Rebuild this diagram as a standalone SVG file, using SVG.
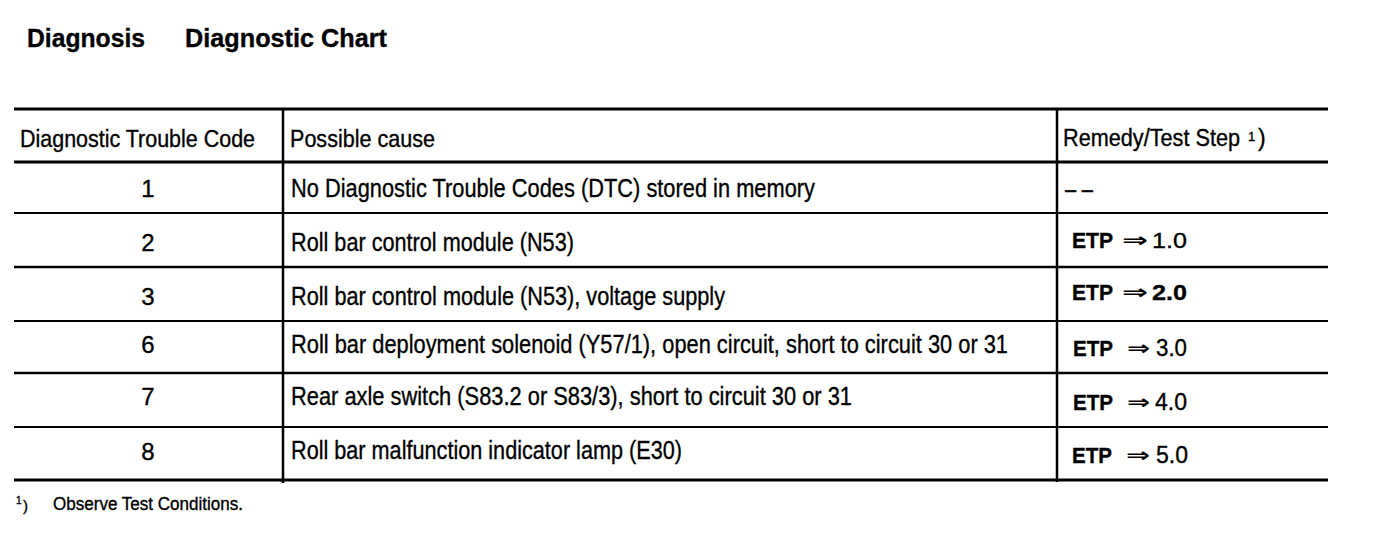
<svg xmlns="http://www.w3.org/2000/svg" width="1376" height="542" viewBox="0 0 1376 542">
<style>
.t{font-family:"Liberation Sans",Arial,sans-serif;fill:#000;stroke:#000;stroke-width:0.35}
.b{font-weight:bold}
.row{font-size:26px}
.hd{font-size:24px}
.num{font-size:24px;text-anchor:middle}
.etp{font-size:22px;font-weight:bold}
.arr{font-family:"DejaVu Sans",sans-serif;font-size:20px;font-weight:bold;fill:#000}
.ln{stroke:#000;fill:none}
</style>
<rect width="1376" height="542" fill="#fff"/>
<g id="title">
<text class="t b" x="27" y="47" font-size="26" textLength="118" lengthAdjust="spacingAndGlyphs">Diagnosis</text>
<text class="t b" x="185" y="47" font-size="26" textLength="202" lengthAdjust="spacingAndGlyphs">Diagnostic Chart</text>
</g>
<g id="grid">
<line class="ln" x1="14" y1="109" x2="1328" y2="109" stroke-width="3"/>
<line class="ln" x1="14" y1="162" x2="1328" y2="162" stroke-width="3"/>
<line class="ln" x1="14" y1="213" x2="1328" y2="213" stroke-width="2"/>
<line class="ln" x1="14" y1="267" x2="1328" y2="267" stroke-width="2.5"/>
<line class="ln" x1="14" y1="321" x2="1328" y2="321" stroke-width="2"/>
<line class="ln" x1="14" y1="373" x2="1328" y2="373" stroke-width="2.5"/>
<line class="ln" x1="14" y1="427" x2="1328" y2="427" stroke-width="2"/>
<line class="ln" x1="14" y1="480" x2="1328" y2="480" stroke-width="3"/>
<line class="ln" x1="283" y1="108" x2="283" y2="483" stroke-width="2.5"/>
<line class="ln" x1="1057" y1="108" x2="1057" y2="482" stroke-width="2.5"/>
</g>
<g id="header">
<text class="t hd" transform="translate(20,147) scale(0.82,1)" textLength="286.6" lengthAdjust="spacingAndGlyphs">Diagnostic Trouble Code</text>
<text class="t hd" transform="translate(290,147) scale(0.82,1)" textLength="176.8" lengthAdjust="spacingAndGlyphs">Possible cause</text>
<text class="t hd" transform="translate(1063,146) scale(0.82,1)" textLength="215.9" lengthAdjust="spacingAndGlyphs">Remedy/Test Step</text>
<text class="t" x="1248" y="141" font-size="13">1</text>
<text class="t" x="1258" y="146" font-size="23">)</text>
</g>
<g id="row1">
<text class="t num" x="148" y="197">1</text>
<text class="t row" transform="translate(291,197) scale(0.82,1)" textLength="639" lengthAdjust="spacingAndGlyphs">No Diagnostic Trouble Codes (DTC) stored in memory</text>
<text class="t row" x="1065" y="198" textLength="28" lengthAdjust="spacingAndGlyphs">– –</text>
</g>
<g id="row2">
<text class="t num" x="148" y="251">2</text>
<text class="t row" transform="translate(291,251) scale(0.82,1)" textLength="345" lengthAdjust="spacingAndGlyphs">Roll bar control module (N53)</text>
<text class="t etp" x="1072" y="248" textLength="41" lengthAdjust="spacingAndGlyphs">ETP</text>
<text class="arr" x="1122" y="247" textLength="26" lengthAdjust="spacingAndGlyphs">⇒</text>
<text class="t" x="1152" y="248" font-size="22" textLength="35" lengthAdjust="spacingAndGlyphs">1.0</text>
</g>
<g id="row3">
<text class="t num" x="148" y="305">3</text>
<text class="t row" transform="translate(291,305) scale(0.82,1)" textLength="529.3" lengthAdjust="spacingAndGlyphs">Roll bar control module (N53), voltage supply</text>
<text class="t etp" x="1072" y="300" textLength="41" lengthAdjust="spacingAndGlyphs">ETP</text>
<text class="arr" x="1122" y="299" textLength="26" lengthAdjust="spacingAndGlyphs">⇒</text>
<text class="t b" x="1152" y="300" font-size="22" textLength="35" lengthAdjust="spacingAndGlyphs">2.0</text>
</g>
<g id="row6">
<text class="t num" x="148" y="353">6</text>
<text class="t row" transform="translate(291,353) scale(0.82,1)" textLength="874.4" lengthAdjust="spacingAndGlyphs">Roll bar deployment solenoid (Y57/1), open circuit, short to circuit 30 or 31</text>
<text class="t etp" x="1073" y="356" font-size="23" textLength="40" lengthAdjust="spacingAndGlyphs">ETP</text>
<text class="arr" x="1127" y="355" textLength="23" lengthAdjust="spacingAndGlyphs">⇒</text>
<text class="t" x="1156" y="356" font-size="23" textLength="31" lengthAdjust="spacingAndGlyphs">3.0</text>
</g>
<g id="row7">
<text class="t num" x="148" y="405">7</text>
<text class="t row" transform="translate(291,405) scale(0.82,1)" textLength="684.1" lengthAdjust="spacingAndGlyphs">Rear axle switch (S83.2 or S83/3), short to circuit 30 or 31</text>
<text class="t etp" x="1073" y="410" font-size="23" textLength="40" lengthAdjust="spacingAndGlyphs">ETP</text>
<text class="arr" x="1127" y="409" textLength="23" lengthAdjust="spacingAndGlyphs">⇒</text>
<text class="t" x="1155" y="410" font-size="23" textLength="32" lengthAdjust="spacingAndGlyphs">4.0</text>
</g>
<g id="row8">
<text class="t num" x="148" y="460">8</text>
<text class="t row" transform="translate(291,459) scale(0.82,1)" textLength="476.8" lengthAdjust="spacingAndGlyphs">Roll bar malfunction indicator lamp (E30)</text>
<text class="t etp" x="1072" y="463" font-size="23" textLength="40" lengthAdjust="spacingAndGlyphs">ETP</text>
<text class="arr" x="1126" y="462" textLength="24" lengthAdjust="spacingAndGlyphs">⇒</text>
<text class="t" x="1156" y="463" font-size="23" textLength="32" lengthAdjust="spacingAndGlyphs">5.0</text>
</g>
<g id="footnote">
<text class="t" x="16" y="504" font-size="10">1</text>
<text class="t" x="23" y="511" font-size="15">)</text>
<text class="t" x="53" y="510" font-size="18" textLength="190" lengthAdjust="spacingAndGlyphs">Observe Test Conditions.</text>
</g>
</svg>
